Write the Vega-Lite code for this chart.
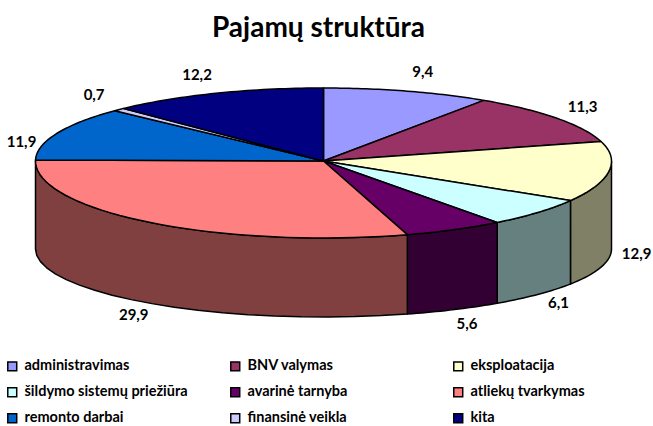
{
"$schema":"https://vega.github.io/schema/vega-lite/v6.json",
"width":653,"height":426,"padding":0,"autosize":{"type":"none"},
"background":"white",
"title":{"text":"Pajamų struktūra","font":"Lato","fontSize":28,"fontWeight":"bold","color":"black","anchor":"middle","frame":"group","dx":-8,"dy":27,"offset":-38,"baseline":"alphabetic"},
"config":{"view":{"stroke":null}},
"data":{"values":[
{"slice":"administravimas","value":9.4},
{"slice":"BNV valymas","value":11.3},
{"slice":"eksploatacija","value":12.9},
{"slice":"šildymo sistemų priežiūra","value":6.1},
{"slice":"avarinė tarnyba","value":5.6},
{"slice":"atliekų tvarkymas","value":29.9},
{"slice":"remonto darbai","value":11.9},
{"slice":"finansinė veikla","value":0.7},
{"slice":"kita","value":12.2}
]},
"transform":[
{"window":[{"op":"sum","field":"value","as":"cum"}],"frame":[null,0]},
{"calculate":"(datum.cum-datum.value)/100*2*PI","as":"a0"},
{"calculate":"datum.cum/100*2*PI","as":"a1"}
],
"layer":[
{
"transform":[
{"calculate":"max(datum.a0,PI/2)","as":"b0"},
{"calculate":"min(datum.a1,3*PI/2)","as":"b1"},
{"filter":"datum.b1>datum.b0"},
{"calculate":"sequence(0,43)","as":"t"},
{"flatten":["t"]},
{"calculate":"datum.t<=20?datum.t/20:(datum.t<=41?(41-datum.t)/20:0)","as":"u"},
{"calculate":"datum.b0+(datum.b1-datum.b0)*datum.u","as":"a"},
{"calculate":"288*sin(datum.a)","as":"px"},
{"calculate":"(datum.t>20&&datum.t<=41)?(68*cos(datum.a)-88):(77*cos(datum.a))","as":"py"}
],
"mark":{"type":"line","filled":true,"stroke":"black","strokeWidth":1.5,"strokeJoin":"round"},
"encoding":{
"x":{"field":"px","type":"quantitative","scale":{"domain":[-323.5,329.5]},"axis":null},
"y":{"field":"py","type":"quantitative","scale":{"domain":[-265,161]},"axis":null},
"order":{"field":"t","type":"quantitative"},
"color":{"field":"slice","type":"nominal","legend":null,"scale":{
"domain":["eksploatacija","šildymo sistemų priežiūra","avarinė tarnyba","atliekų tvarkymas"],
"range":["#808066","#668080","#330033","#804040"]}}
}
},
{
"transform":[
{"calculate":"sequence(0,43)","as":"t"},
{"flatten":["t"]},
{"calculate":"datum.a0+(datum.a1-datum.a0)*(datum.t-1)/40","as":"a"},
{"calculate":"(datum.t>=1&&datum.t<=41)?1:0","as":"r"},
{"calculate":"datum.r*288*sin(datum.a)","as":"px"},
{"calculate":"datum.r*(cos(datum.a)>0?73:77)*cos(datum.a)","as":"py"}
],
"mark":{"type":"line","filled":true,"stroke":"black","strokeWidth":1.5,"strokeJoin":"round"},
"encoding":{
"x":{"field":"px","type":"quantitative","scale":{"domain":[-323.5,329.5]},"axis":null},
"y":{"field":"py","type":"quantitative","scale":{"domain":[-265,161]},"axis":null},
"order":{"field":"t","type":"quantitative"},
"color":{"field":"slice","type":"nominal",
"scale":{
"domain":["administravimas","šildymo sistemų priežiūra","remonto darbai","BNV valymas","avarinė tarnyba","finansinė veikla","eksploatacija","atliekų tvarkymas","kita"],
"range":["#9999ff","#ccffff","#0066cc","#993366","#660066","#ccccff","#ffffcc","#ff8080","#000080"]},
"legend":{"title":null,"orient":"none","legendX":5,"legendY":359,"columns":3,"gridAlign":"all","columnPadding":39,"rowPadding":10,"symbolType":"square","symbolSize":80,"symbolStrokeColor":"black","symbolStrokeWidth":1.5,"symbolOpacity":1,"labelFont":"Lato","labelFontSize":14.5,"labelFontWeight":"bold","labelColor":"black","labelLimit":300,"labelOffset":5}}
}
},
{
"transform":[
{"calculate":"(datum.a0+datum.a1)/2","as":"m"},
{"calculate":"sin(datum.m)*(sin(datum.m)<-0.9?326:316+(cos(datum.m)>0?30*pow(cos(datum.m),4):0))","as":"px"},
{"calculate":"cos(datum.m)>0?93*cos(datum.m)*(cos(datum.m)<0.5?0.55:1):93*cos(datum.m)-80","as":"py"},
{"calculate":"replace(format(datum.value,'.1f'),'.',',')","as":"lab"}
],
"mark":{"type":"text","font":"Lato","fontSize":15,"fontWeight":"bold","color":"black"},
"encoding":{
"x":{"field":"px","type":"quantitative","scale":{"domain":[-323.5,329.5]},"axis":null},
"y":{"field":"py","type":"quantitative","scale":{"domain":[-265,161]},"axis":null},
"text":{"field":"lab","type":"nominal"}
}
}
],
"resolve":{"scale":{"color":"independent"}}
}
